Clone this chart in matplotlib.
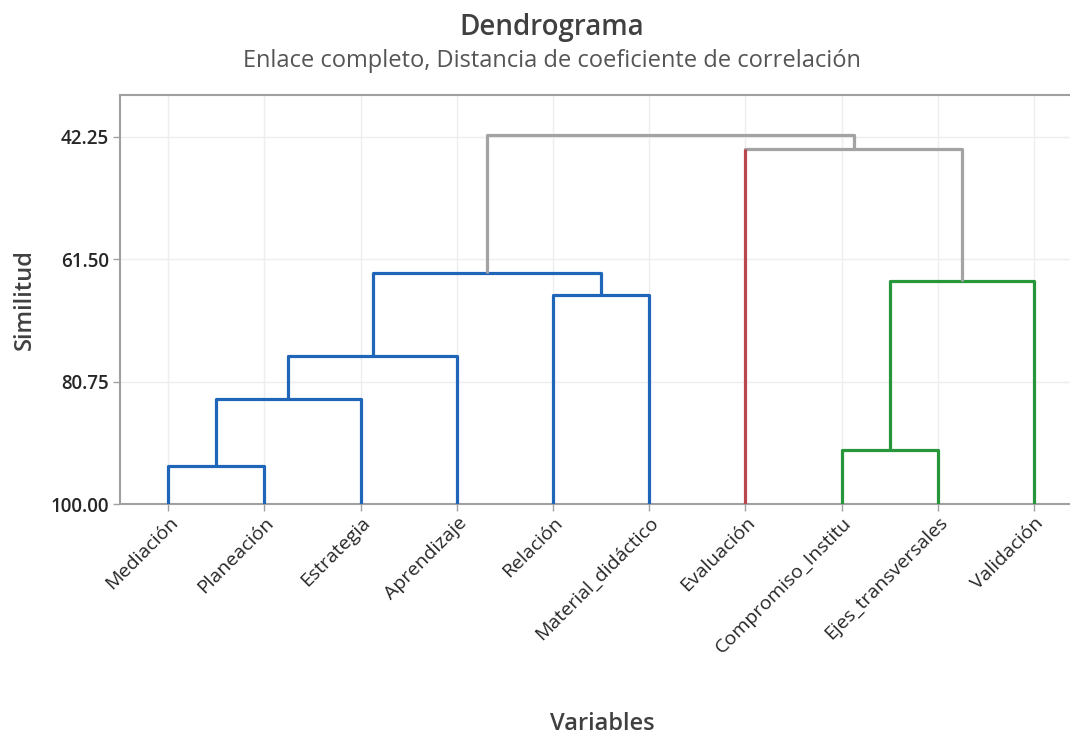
import matplotlib
matplotlib.use("Agg")
import matplotlib.pyplot as plt
from matplotlib.transforms import ScaledTranslation

plt.rcParams['font.family'] = ['Open Sans', 'DejaVu Sans']

variables = ['Mediación', 'Planeación', 'Estrategia', 'Aprendizaje', 'Relación',
             'Material_didáctico', 'Evaluación', 'Compromiso_Institu',
             'Ejes_transversales', 'Validación']
clusters = [0, 0, 0, 0, 0, 0, 1, 2, 2, 2]
cluster_colors = ['#1f66b8', '#b9474d', '#27973a']
link_gray = '#a3a3a3'

# merges: (left node, right node, similarity); new nodes are numbered 10, 11, ...
merges = [
    (0, 1, 94.0),
    (10, 2, 83.5),
    (11, 3, 76.8),
    (4, 5, 67.2),
    (12, 13, 63.7),
    (7, 8, 91.5),
    (15, 9, 64.9),
    (6, 16, 44.15),
    (14, 17, 41.95),
]
yticks = [100.00, 80.75, 61.50, 42.25]

n = len(variables)
xpos = {i: float(i) for i in range(n)}
height = {i: 100.0 for i in range(n)}
members = {i: {clusters[i]} for i in range(n)}
color = {i: cluster_colors[clusters[i]] for i in range(n)}
for k, (a, b, s) in enumerate(merges):
    node = n + k
    xpos[node] = (xpos[a] + xpos[b]) / 2
    height[node] = s
    members[node] = members[a] | members[b]
    if len(members[node]) == 1:
        color[node] = cluster_colors[list(members[node])[0]]
    else:
        color[node] = link_gray

fig = plt.figure(figsize=(10.7, 7.38), dpi=100)
ax = fig.add_axes([120 / 1070, 234 / 738, 962 / 1070, 409 / 738])

lw = 2.3
for k, (a, b, s) in enumerate(merges):
    node = n + k
    c = color[node]
    ax.plot([xpos[a], xpos[b]], [s, s], color=c, lw=lw, solid_capstyle='round', zorder=3)
    for child in (a, b):
        leg_color = color[child] if child < n else c
        ax.plot([xpos[child], xpos[child]], [height[child], s], color=leg_color,
                lw=lw, solid_capstyle='butt', zorder=3)

ax.set_xlim(-0.5, n - 0.5)
ax.set_ylim(100, 35.7)
ax.set_yticks(yticks)
ax.set_yticklabels([f'{t:.2f}' for t in yticks], fontsize=13.5, fontweight='semibold',
                   color='#262626')
ax.set_xticks(range(n))
ax.set_xticklabels([])
ax.tick_params(axis='x', length=5, width=1, color='#a0a0a0')
ax.tick_params(axis='y', length=5, width=1, color='#a0a0a0', pad=3)

# rotated variable names, placed a little right of each tick like the original
lab_trans = ax.get_xaxis_transform() + ScaledTranslation(7 / 100, -16 / 100, fig.dpi_scale_trans)
for i, name in enumerate(variables):
    ax.text(i, 0, name, transform=lab_trans, rotation=45, ha='right', va='center',
            rotation_mode='anchor', fontsize=14, color='#262626', clip_on=False)

ax.grid(True, color='#eeeeee', lw=1, zorder=0)
ax.set_axisbelow(True)
for sp in ax.spines.values():
    sp.set_color('#a0a0a0')
    sp.set_linewidth(1.5)

fig.text(25 / 1070, 1 - 300 / 738, 'Similitud', rotation=90, ha='center', va='center',
         fontsize=17, fontweight='semibold', color='#404040')
fig.text(602 / 1070, 1 - 724 / 738, 'Variables', ha='center', va='center',
         fontsize=17, fontweight='semibold', color='#404040')
fig.text(552 / 1070, 1 - 27 / 738, 'Dendrograma', ha='center', va='center',
         fontsize=20, fontweight='semibold', color='#404040')
fig.text(552 / 1070, 1 - 61 / 738, 'Enlace completo, Distancia de coeficiente de correlación',
         ha='center', va='center', fontsize=17, color='#555555')

fig.savefig('out.png', dpi=100)
